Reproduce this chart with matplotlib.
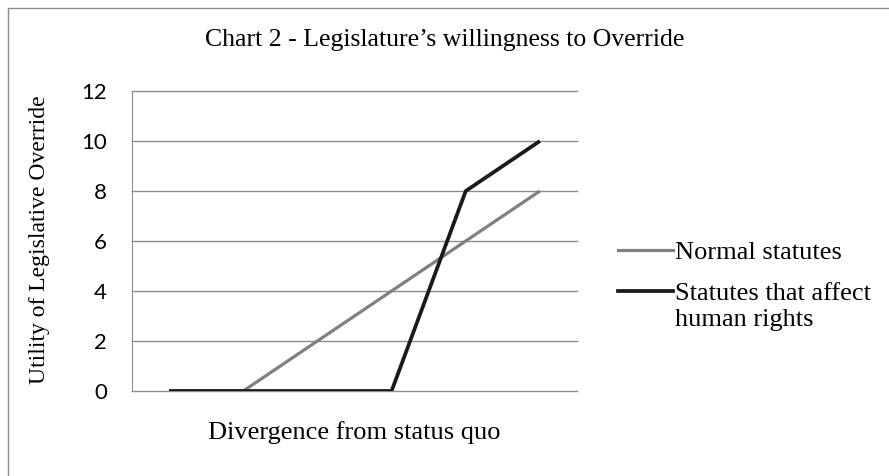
import matplotlib
matplotlib.use("Agg")
import matplotlib.pyplot as plt
from matplotlib.lines import Line2D
from matplotlib.patches import Rectangle

points = [0, 1, 2, 3, 4, 5]
normal = [0, 0, 2, 4, 6, 8]
human_rights = [0, 0, 0, 0, 8, 10]
yticks = [0, 2, 4, 6, 8, 10, 12]

serif = ['Liberation Serif', 'DejaVu Serif']
sans = ['Lato', 'DejaVu Sans']
gray = '#808080'
dark = '#1a1a1a'

fig = plt.figure(figsize=(8.89, 4.76), dpi=100)
fig.patches.append(Rectangle((8 / 889, -0.1), 1.2, 1.1 - 8 / 476, transform=fig.transFigure,
                             fill=False, edgecolor='#8c8c8c', linewidth=1))

ax = fig.add_axes([132 / 889, 1 - 391 / 476, (577 - 132) / 889, (391 - 91) / 476])
ax.plot(points, normal, color=gray, linewidth=2.3, solid_capstyle='butt')
ax.plot(points, human_rights, color=dark, linewidth=2.7, solid_capstyle='butt')

ax.set_xlim(-0.5, 5.5)
ax.set_ylim(0, 12)
ax.set_yticks(yticks)
ax.set_xticks([])
ax.yaxis.grid(True, color='#8c8c8c', linewidth=1)
for line in ax.get_ygridlines():
    line.set_clip_on(False)
ax.set_axisbelow(True)
for side in ['top', 'right', 'bottom']:
    ax.spines[side].set_visible(False)
ax.spines['left'].set_color('#8c8c8c')
ax.tick_params(axis='y', length=0, pad=18, labelsize=16)
for lab in ax.get_yticklabels():
    lab.set_family(sans)

fig.text(445 / 889, 1 - 40 / 476, 'Chart 2 - Legislature\u2019s willingness to Override',
         ha='center', va='center', fontsize=18.5, family=serif)
fig.text(354 / 889, 1 - 433 / 476, 'Divergence from status quo',
         ha='center', va='center', fontsize=19, family=serif)
fig.text(40 / 889, 1 - 240 / 476, 'Utility of Legislative Override',
         ha='center', va='center', rotation=90, fontsize=17, family=serif)

# legend drawn by hand so the handle sits on the first text line
legend = [(['Normal statutes'], gray, 2.3, 250),
          (['Statutes that affect', 'human rights'], dark, 2.7, 291)]
for lines, color, lw, y in legend:
    fig.add_artist(Line2D([618 / 889, 673 / 889], [1 - y / 476, 1 - y / 476],
                          color=color, linewidth=lw, transform=fig.transFigure))
    for i, text in enumerate(lines):
        fig.text(675 / 889, 1 - (y + 9 + 26 * i) / 476, text, ha='left', va='baseline',
                 fontsize=19, family=serif)

fig.savefig('out.png', dpi=100)
